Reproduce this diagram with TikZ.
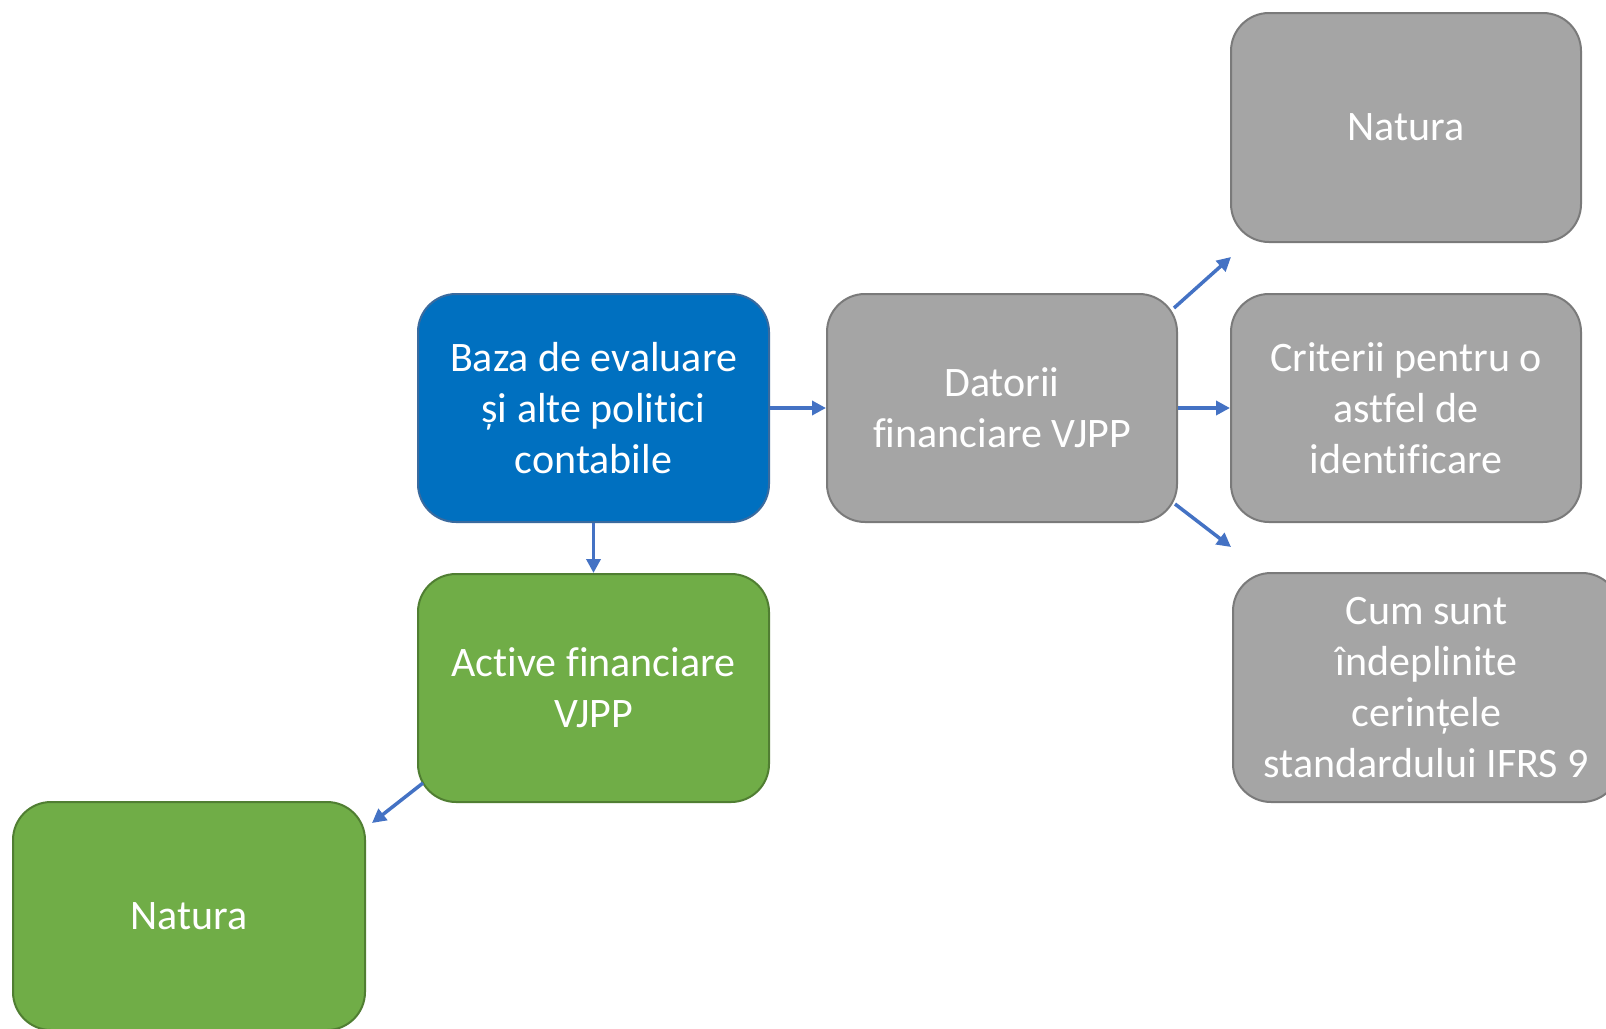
\documentclass[tikz,border=0pt]{standalone}
\usepackage{fontspec}
\setmainfont{Carlito}[Ligatures=NoCommon]
\usetikzlibrary{arrows.meta,calc}
\definecolor{bluefill}{HTML}{0070C0}
\definecolor{blueline}{HTML}{3A6A9E}
\definecolor{greyfill}{HTML}{A5A5A5}
\definecolor{greyline}{HTML}{7A7A7A}
\definecolor{greenfill}{HTML}{70AD47}
\definecolor{greenline}{HTML}{507E32}
\definecolor{arrowblue}{HTML}{4472C4}
\begin{document}
\begin{tikzpicture}[x=1pt,y=-1pt,
  box/.style={rectangle, rounded corners=38pt, line width=2pt, text=white,
    align=center, inner sep=0pt, font=\fontsize{42}{51}\selectfont},
  bluebox/.style={box, fill=bluefill, draw=blueline},
  greybox/.style={box, fill=greyfill, draw=greyline},
  greenbox/.style={box, fill=greenfill, draw=greenline},
  conn/.style={draw=arrowblue, line width=3.5pt, -{Triangle[width=14pt,length=14pt]}}
]
\useasboundingbox (0,0) rectangle (1606,1028);
\clip (0,0) rectangle (1606,1028);
\fill[white] (0,0) rectangle (1606,1028);

\node[bluebox, minimum width=351pt, minimum height=228pt] (base) at (593.5,408)
  {Baza de evaluare\\și alte politici\\contabile};
\node[greybox, minimum width=350pt, minimum height=228pt] (dat) at (1002,408)
  {Datorii\\financiare VJPP};
\node[greybox, minimum width=350pt, minimum height=229pt] (nat1) at (1406,127.5)
  {Natura};
\node[greybox, minimum width=350pt, minimum height=228pt] (crit) at (1406,408)
  {Criterii pentru o\\astfel de\\identificare};
\node[greybox, minimum width=387pt, minimum height=229pt] (cum) at (1426.5,687.5)
  {Cum sunt\\îndeplinite\\cerințele\\standardului IFRS 9};
\node[greenbox, minimum width=351pt, minimum height=228pt] (act) at (593.5,688)
  {Active financiare\\VJPP};
\node[greenbox, minimum width=352pt, minimum height=228pt] (nat2) at (189,916)
  {Natura};

\coordinate (t1) at (1231,257);
\coordinate (t2) at (1231,547);
\coordinate (t3) at (372,823);

\draw[conn] (base.east) -- (dat.west);
\draw[conn] (base.south) -- (act.north);
\draw[conn] (dat.east) -- (crit.west);
\draw[conn] ($(dat.north east)+(-4,15)$) -- (t1);
\draw[conn] ($(dat.south east)+(-3,-19)$) -- (t2);
\draw[conn] ($(act.south west)+(6,-20)$) -- (t3);
\end{tikzpicture}
\end{document}
